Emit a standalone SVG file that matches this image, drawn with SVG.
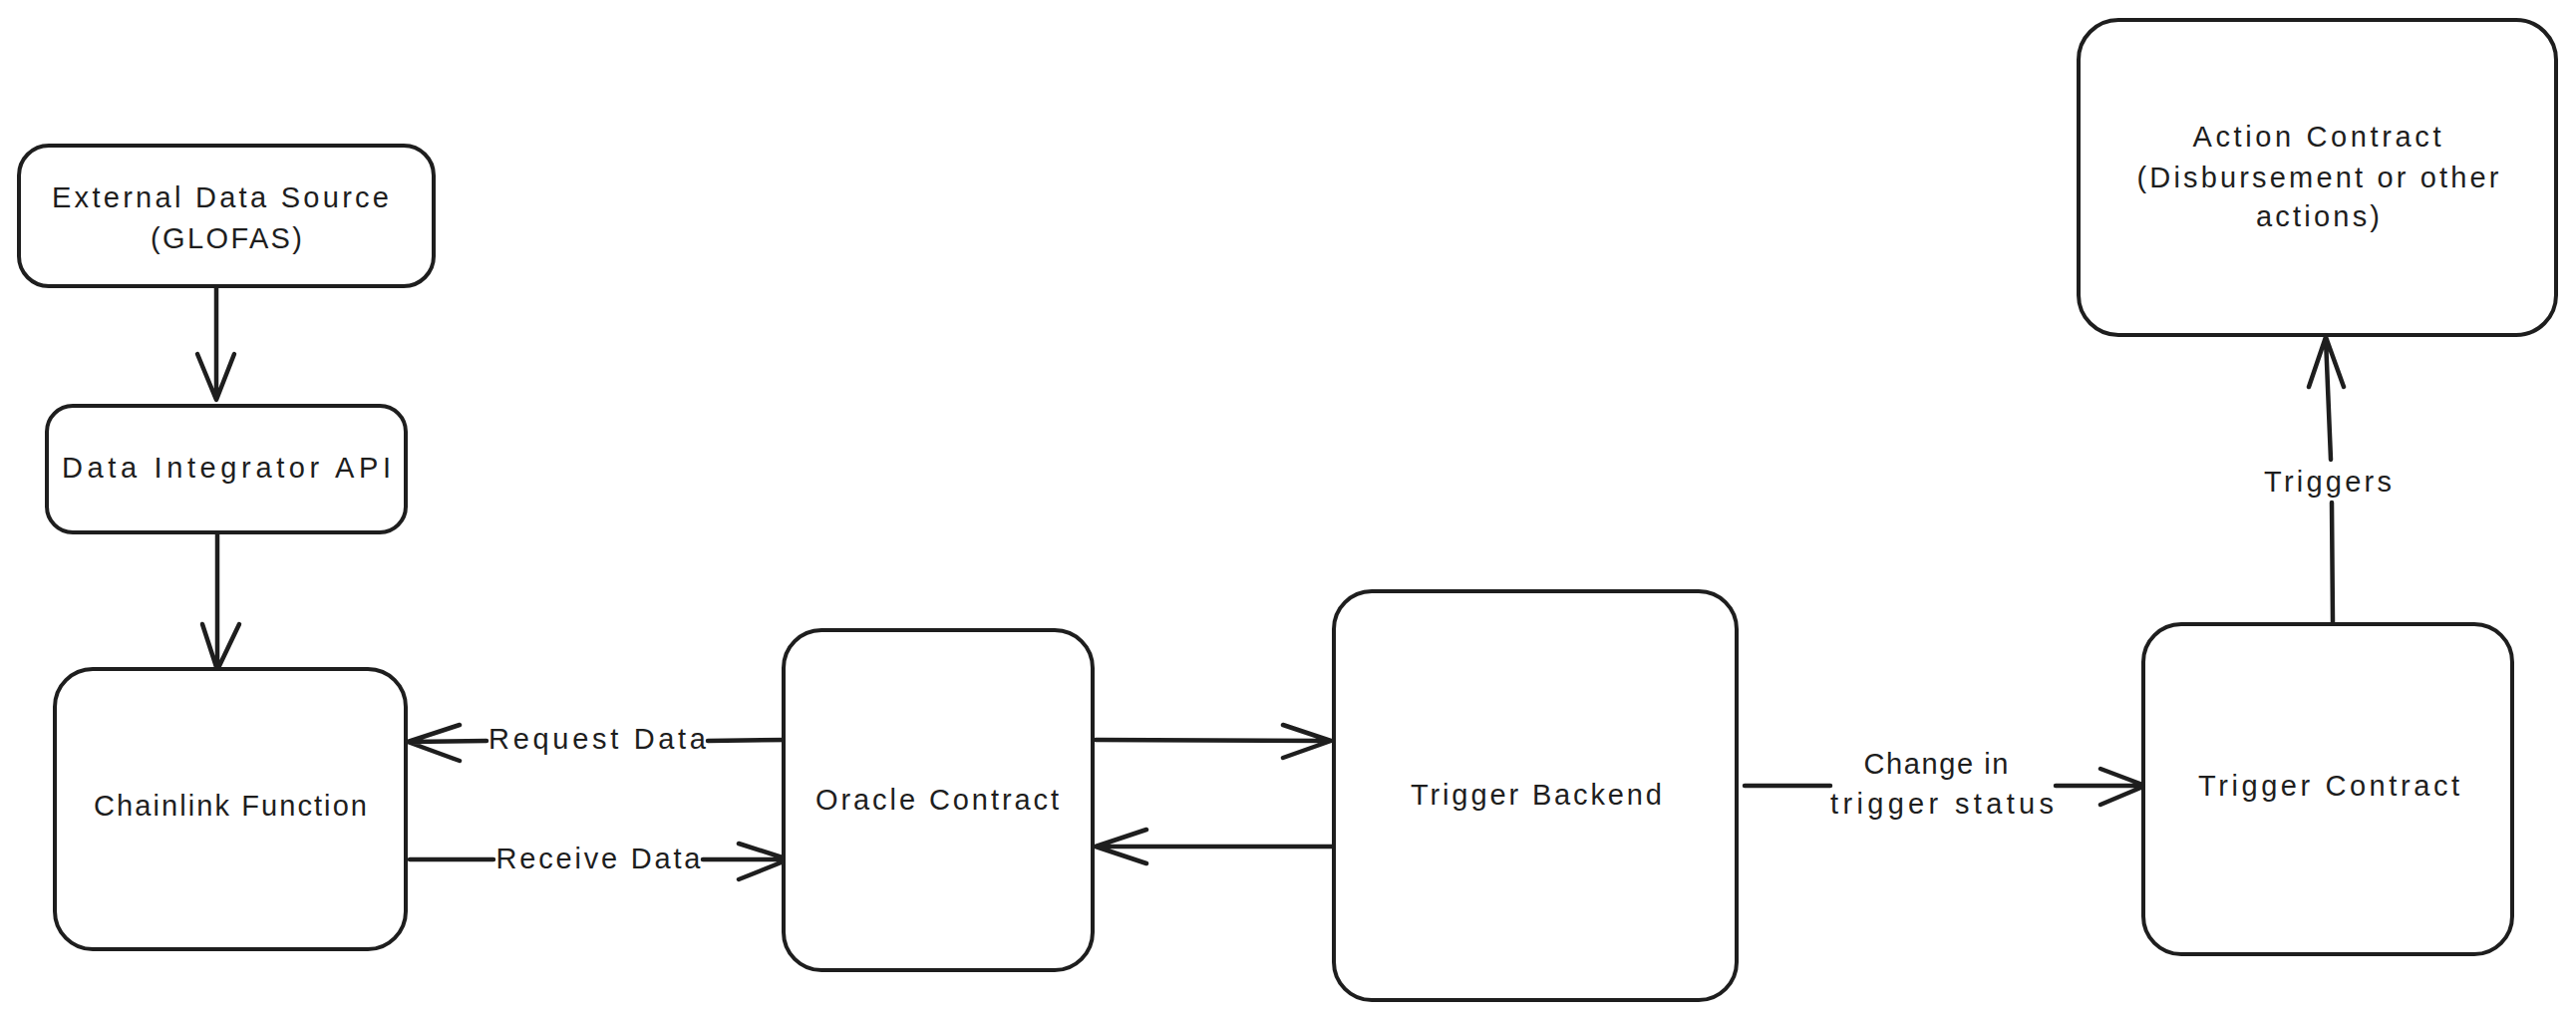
<svg xmlns="http://www.w3.org/2000/svg" width="2584" height="1023" viewBox="0 0 2584 1023">
<style>
.box{fill:#ffffff;stroke:#1e1e1e;stroke-width:4}
.t{font-family:"Liberation Sans",Arial,sans-serif;font-size:29px;fill:#1e1e1e;text-anchor:middle}
.c{fill:none;stroke:#1e1e1e;stroke-width:4.5;stroke-linecap:round;stroke-linejoin:round}
</style>
<rect x="0" y="0" width="2584" height="1023" fill="#ffffff"/>
<g id="connectors">
<path class="c" d="M217 287 L217 399 M198 355 L217 401 L235 355"/>
<path class="c" d="M218 534 L218 670 M203 626 L218 672 L240 626"/>
<path class="c" d="M791 742 L710 743 M488 743 L411 744 M461 727 L409 744 L461 763"/>
<path class="c" d="M411 862 L495 862 M705 862 L789 862 M741 846 L791 862 L741 882"/>
<path class="c" d="M1099 742 L1333 743 M1287 727 L1335 743 L1287 760"/>
<path class="c" d="M1337 849 L1101 849 M1150 832 L1099 849 L1150 866"/>
<path class="c" d="M1750 788 L1836 788 M2062 788 L2150 788 M2107 771 L2152 788 L2107 807"/>
<path class="c" d="M2340 625 L2339 504 M2338 461 L2333 340 M2316 388 L2333 338 L2351 388"/>
</g>
<g id="label-request"><text class="t" x="599" y="751" textLength="218" lengthAdjust="spacing">Request Data</text></g>
<g id="label-receive"><text class="t" x="600" y="871" textLength="205" lengthAdjust="spacing">Receive Data</text></g>
<g id="label-change"><text class="t" x="1942" y="776" textLength="145" lengthAdjust="spacing">Change in</text><text class="t" x="1948" y="816" textLength="224" lengthAdjust="spacing">trigger status</text></g>
<g id="label-triggers"><text class="t" x="2335" y="493" textLength="128" lengthAdjust="spacing">Triggers</text></g>
<g id="external-data-source">
<rect class="box" x="19" y="146" width="416" height="141" rx="30"/>
<text class="t" x="221" y="208" textLength="338" lengthAdjust="spacing">External Data Source</text>
<text class="t" x="227" y="249" textLength="152" lengthAdjust="spacing">(GLOFAS)</text>
</g>
<g id="data-integrator-api">
<rect class="box" x="47" y="407" width="360" height="127" rx="26"/>
<text class="t" x="227" y="479" textLength="330" lengthAdjust="spacing">Data Integrator API</text>
</g>
<g id="chainlink-function">
<rect class="box" x="55" y="671" width="352" height="281" rx="38"/>
<text class="t" x="231" y="818" textLength="274" lengthAdjust="spacing">Chainlink Function</text>
</g>
<g id="oracle-contract">
<rect class="box" x="786" y="632" width="310" height="341" rx="38"/>
<text class="t" x="940" y="812" textLength="244" lengthAdjust="spacing">Oracle Contract</text>
</g>
<g id="trigger-backend">
<rect class="box" x="1338" y="593" width="404" height="410" rx="38"/>
<text class="t" x="1541" y="807" textLength="252" lengthAdjust="spacing">Trigger Backend</text>
</g>
<g id="trigger-contract">
<rect class="box" x="2150" y="626" width="370" height="331" rx="38"/>
<text class="t" x="2336" y="798" textLength="262" lengthAdjust="spacing">Trigger Contract</text>
</g>
<g id="action-contract">
<rect class="box" x="2085" y="20" width="479" height="316" rx="40"/>
<text class="t" x="2324" y="147" textLength="249" lengthAdjust="spacing">Action Contract</text>
<text class="t" x="2325" y="188" textLength="363" lengthAdjust="spacing">(Disbursement or other</text>
<text class="t" x="2325" y="227" textLength="124" lengthAdjust="spacing">actions)</text>
</g>
</svg>
